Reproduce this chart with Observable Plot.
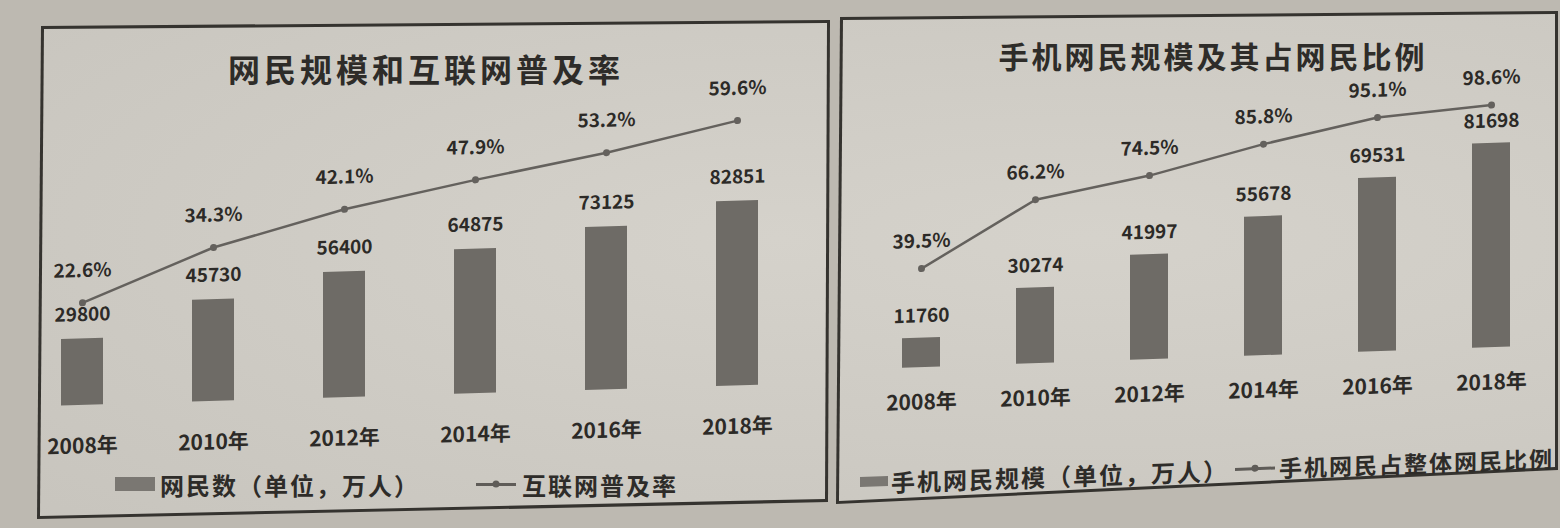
<!DOCTYPE html>
<html>
<head>
<meta charset="utf-8">
<script src="https://cdn.jsdelivr.net/npm/d3@7"></script>
<script src="https://cdn.jsdelivr.net/npm/@observablehq/plot@0.6"></script>
<style>
  html, body { margin: 0; padding: 0; }
  body { width: 1560px; height: 528px; position: relative; overflow: hidden; background: #bdb9b1;
         font-family: "Noto Sans CJK SC", "Noto Sans", sans-serif; color: #2c2a27; }
  .poly { position: absolute; left: 0; top: 0; width: 1560px; height: 528px; }
  .title { position: absolute; font-weight: 700; white-space: nowrap; transform: translate(-50%, -50%); color: #2e2c29; }
  .plot { position: absolute; transform-origin: 0 0; }
  .legend { position: absolute; display: flex; align-items: center; white-space: nowrap; font-weight: 700; color: #2e2c29; transform-origin: 0 50%; }
  .sw { display: inline-block; background: #7a7772; }
  .ln { display: inline-block; position: relative; height: 3px; background: #5f5c58; }
  .ln::after { content: ""; position: absolute; left: 50%; top: 50%; width: 7px; height: 7px; border-radius: 50%; background: #5f5c58; transform: translate(-50%, -50%); }
</style>
</head>
<body>
<div class="poly" style="background:#35332f; clip-path: polygon(41px 26px, 830px 20px, 828px 502px, 37px 519px);"></div>
<div class="poly" style="background: radial-gradient(ellipse at 50% 45%, #d5d2cb, #c7c4bd); clip-path: polygon(44px 29px, 827px 23px, 825px 499px, 40px 516px);"></div>
<div class="poly" style="background:#35332f; clip-path: polygon(840px 17px, 1558px 11px, 1558px 470px, 836px 504px);"></div>
<div class="poly" style="background: radial-gradient(ellipse at 70% 45%, #d5d2cb, #c7c4bd); clip-path: polygon(843px 20px, 1555px 14px, 1555px 467px, 839px 501px);"></div>

<div class="title" style="left:426px; top:68px; font-size:32px; letter-spacing:4px;">网民规模和互联网普及率</div>
<div class="title" style="left:1213px; top:55px; font-size:30px; letter-spacing:3px;">手机网民规模及其占网民比例</div>

<div id="lb" class="plot" style="left:42px; top:80px; transform: skewY(-1.7deg);"></div>
<div id="ll" class="plot" style="left:42px; top:80px; transform: skewY(-1.7deg);"></div>
<div id="rb" class="plot" style="left:838px; top:80px; transform: skewY(-2deg);"></div>
<div id="rl" class="plot" style="left:838px; top:80px; transform: skewY(-2deg);"></div>

<div class="legend" style="left:115px; top:470px; height:28px; font-size:24px; letter-spacing:2px;">
  <span class="sw" style="width:40px; height:14px; margin-right:5px;"></span><span>网民数（单位，万人）</span>
  <span class="ln" style="width:40px; margin-left:56px; margin-right:6px;"></span><span>互联网普及率</span>
</div>
<div class="legend" style="left:860px; top:468px; height:28px; font-size:24px; letter-spacing:2px; transform: skewY(-2deg);">
  <span class="sw" style="width:28px; height:10px; margin-right:3px;"></span><span>手机网民规模（单位，万人）</span>
  <span class="ln" style="width:40px; margin-left:6px; margin-right:4px;"></span><span style="font-size:23px;">手机网民占整体网民比例</span>
</div>

<script>
// ---- data ----
const years = ["2008年", "2010年", "2012年", "2014年", "2016年", "2018年"];
const netUsers = [29800, 45730, 56400, 64875, 73125, 82851];          // 网民数（万人）
const netRate = [22.6, 34.3, 42.1, 47.9, 53.2, 59.6];                 // 互联网普及率 %
const mobileUsers = [11760, 30274, 41997, 55678, 69531, 81698];       // 手机网民规模（万人）
const mobileShare = [39.5, 66.2, 74.5, 85.8, 95.1, 98.6];             // 手机网民占整体网民比例 %

const font = '"Noto Sans CJK SC", "Noto Sans", sans-serif';
const ink = "#2c2a27";
const barFill = "#6e6b66";
const lineCol = "#64615d";

const left = years.map((y, i) => ({year: y, users: netUsers[i], rate: netRate[i]}));
const right = years.map((y, i) => ({year: y, users: mobileUsers[i], rate: mobileShare[i]}));

function barChart(data, o) {
  return Plot.plot({
    width: o.width, height: o.height,
    marginLeft: o.ml, marginRight: o.mr, marginTop: o.mt, marginBottom: o.mb,
    style: {background: "transparent", fontFamily: font, color: ink, overflow: "visible"},
    x: {type: "band", domain: years, paddingInner: o.pi, paddingOuter: o.po, label: null},
    y: {domain: o.ydom, axis: null},
    marks: [
      Plot.barY(data, {x: "year", y: "users", fill: barFill}),
      Plot.text(data, {x: "year", y: "users", text: d => String(d.users), dy: o.dy,
        fontSize: 19, fontWeight: 700, fill: ink, letterSpacing: 1}),
      Plot.axisX({tickSize: 0, tickPadding: o.tp, fontSize: 21, fontWeight: 700, fill: ink, label: null})
    ]
  });
}

function lineChart(data, o) {
  return Plot.plot({
    width: o.width, height: o.height,
    marginLeft: o.ml, marginRight: o.mr, marginTop: o.mt, marginBottom: o.mb,
    style: {background: "transparent", fontFamily: font, color: ink, overflow: "visible"},
    x: {type: "band", domain: years, paddingInner: o.pi, paddingOuter: o.po, axis: null},
    y: {domain: o.ydom, axis: null},
    marks: [
      Plot.lineY(data, {x: "year", y: "rate", stroke: lineCol, strokeWidth: 2.5}),
      Plot.dot(data, {x: "year", y: "rate", r: 3.5, fill: lineCol}),
      Plot.text(data, {x: "year", y: "rate", text: d => d.rate.toFixed(1) + "%", dy: o.dy,
        fontSize: 19, fontWeight: 700, fill: ink})
    ]
  });
}

const L = {width: 786, height: 380, ml: 10, mr: 62, pi: 0.68, po: 0.05};
const R = {width: 717, height: 360, ml: 20, mr: 1, pi: 0.668, po: 0.376};

document.getElementById("lb").append(barChart(left, {...L, mt: 14, mb: 54, ydom: [0, 140000], dy: -24, tp: 33}));
document.getElementById("ll").append(lineChart(left, {...L, mt: 15, mb: 57, ydom: [0, 70], dy: -32}));
document.getElementById("rb").append(barChart(right, {...R, mt: 40, mb: 70, ydom: [0, 100000], dy: -22, tp: 27}));
document.getElementById("rl").append(lineChart(right, {...R, mt: 44, mb: 73, ydom: [0, 100], dy: -27}));
</script>
</body>
</html>
